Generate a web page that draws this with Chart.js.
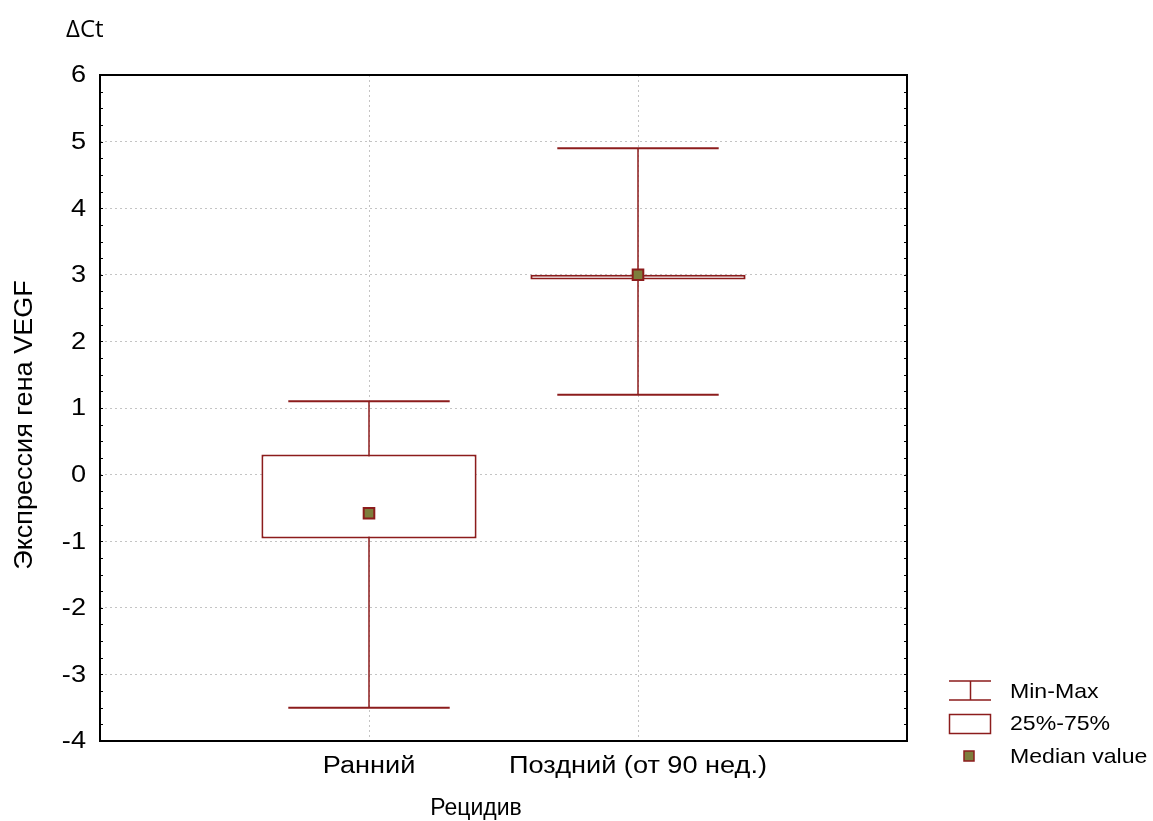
<!DOCTYPE html>
<html>
<head>
<meta charset="utf-8">
<script src="https://cdn.jsdelivr.net/npm/chart.js@4"></script>
<style>
  body { margin: 0; background: #fff; }
  canvas { display: block; }
</style>
</head>
<body>
<canvas id="boxChart" width="1153" height="821"></canvas>
<script>
document.addEventListener("DOMContentLoaded", function () {

/* ================= DATA ================= */
const categories = ["Ранний", "Поздний (от 90 нед.)"];
const minVals    = [-3.5, 1.2];
const q1Vals     = [-0.96, 2.93];
const medianVals = [-0.58, 3.0];
const q3Vals     = [0.3, 3.0];
const maxVals    = [1.1, 4.9];
const legendLabels = ["Min-Max", "25%-75%", "Median value"];

const RED = "#8c1c1c";
const OLIVE = "#7d7d3c";
const GRID = "#c4c4c4";

/* ================= TEXT HELPER ================= */
function text(ctx, str, x, y, font, align, baseline, sx, rot) {
    ctx.save();
    ctx.translate(x, y);
    if (rot) ctx.rotate(rot);
    ctx.scale(sx || 1, 1);
    ctx.font = font;
    ctx.fillStyle = "#000";
    ctx.textAlign = align;
    ctx.textBaseline = baseline;
    ctx.fillText(str, 0, 0);
    ctx.restore();
}

/* ================= WHISKERS (under boxes) ================= */
const whiskerPlugin = {
    id: "whiskers",
    beforeDatasetsDraw(chart) {
        const { ctx, scales: { x, y } } = chart;
        const capHalf = (x.getPixelForValue(1) - x.getPixelForValue(0)) * 0.3;
        ctx.save();
        ctx.strokeStyle = RED;
        categories.forEach((c, i) => {
            const px = x.getPixelForValue(i + 1);
            ctx.lineWidth = 1.5;
            ctx.beginPath();
            ctx.moveTo(px, y.getPixelForValue(minVals[i]));
            ctx.lineTo(px, y.getPixelForValue(maxVals[i]));
            ctx.stroke();
            ctx.lineWidth = 2;
            [minVals[i], maxVals[i]].forEach(v => {
                const py = y.getPixelForValue(v);
                ctx.beginPath();
                ctx.moveTo(px - capHalf, py);
                ctx.lineTo(px + capHalf, py);
                ctx.stroke();
            });
        });
        ctx.restore();
    }
};

/* ================= FRAME, LABELS, LEGEND ================= */
const decorPlugin = {
    id: "decor",
    afterDraw(chart) {
        const { ctx, chartArea: a, scales: { x, y } } = chart;

        // frame
        ctx.save();
        ctx.strokeStyle = "#000";
        ctx.lineWidth = 2;
        ctx.strokeRect(a.left, a.top, a.right - a.left, a.bottom - a.top);

        // minor ticks, every 0.25
        ctx.lineWidth = 1;
        for (let v = y.min; v <= y.max; v += 0.25) {
            const py = Math.round(y.getPixelForValue(v)) + 0.5;
            ctx.beginPath();
            ctx.moveTo(a.left, py); ctx.lineTo(a.left + 3, py);
            ctx.moveTo(a.right, py); ctx.lineTo(a.right - 3, py);
            ctx.stroke();
        }
        ctx.restore();

        // y tick labels
        y.ticks.forEach(t => {
            text(ctx, String(t.value), 86, y.getPixelForValue(t.value) + 1,
                 "23px 'Liberation Sans'", "right", "middle", 1.18);
        });

        // x tick labels
        categories.forEach((c, i) => {
            text(ctx, c, x.getPixelForValue(i + 1), 773,
                 "23px 'Liberation Sans'", "center", "alphabetic", 1.18);
        });

        // titles
        text(ctx, "ΔCt", 66, 37, "24px 'Open Sans'", "left", "alphabetic", 1.0);
        text(ctx, "Рецидив", 476, 815, "23px 'Liberation Sans'", "center", "alphabetic", 1.0);
        text(ctx, "Экспрессия гена VEGF", 32, 425, "26px 'Liberation Sans'",
             "center", "alphabetic", 1.04, -Math.PI / 2);

        // legend
        ctx.save();
        ctx.strokeStyle = RED;
        ctx.lineWidth = 1.5;
        ctx.beginPath();
        ctx.moveTo(949, 681); ctx.lineTo(991, 681);
        ctx.moveTo(949, 700); ctx.lineTo(991, 700);
        ctx.moveTo(970.5, 681); ctx.lineTo(970.5, 700);
        ctx.stroke();
        ctx.strokeRect(949.5, 714.5, 41, 19);
        ctx.fillStyle = OLIVE;
        ctx.fillRect(964, 751, 10, 10);
        ctx.lineWidth = 1.5;
        ctx.strokeRect(964, 751, 10, 10);
        ctx.restore();

        const ly = [692, 724, 757];
        legendLabels.forEach((l, i) => {
            text(ctx, l, 1010, ly[i], "21px 'Liberation Sans'", "left", "middle", 1.1);
        });
    }
};

/* ================= CHART ================= */
new Chart(document.getElementById("boxChart"), {
    type: "bar",
    data: {
        datasets: [
            {
                type: "bar",
                data: categories.map((c, i) => ({ x: i + 1, y: [q1Vals[i], q3Vals[i]] })),
                backgroundColor: "#ffffff",
                borderColor: RED,
                borderWidth: 2,
                borderSkipped: false,
                barPercentage: 1,
                categoryPercentage: 0.8,
                order: 2
            },
            {
                type: "line",
                data: categories.map((c, i) => ({ x: i + 1, y: medianVals[i] })),
                showLine: false,
                pointStyle: "rect",
                pointRadius: 7.5,
                pointBackgroundColor: OLIVE,
                pointBorderColor: RED,
                pointBorderWidth: 2,
                order: 1
            }
        ]
    },
    options: {
        responsive: false,
        animation: false,
        layout: { padding: { left: 100, top: 75, right: 246, bottom: 80 } },
        plugins: { legend: { display: false }, tooltip: { enabled: false } },
        scales: {
            x: {
                type: "linear",
                min: 0, max: 3,
                offset: false,
                ticks: { display: false, stepSize: 1 },
                grid: { color: GRID, drawTicks: false, offset: false, lineWidth: 1 },
                border: { display: false, dash: [2, 3] }
            },
            y: {
                min: -4, max: 6,
                ticks: { display: false, stepSize: 1 },
                grid: { color: GRID, drawTicks: false, lineWidth: 1 },
                border: { display: false, dash: [2, 3] }
            }
        }
    },
    plugins: [whiskerPlugin, decorPlugin]
});

});
</script>
</body>
</html>
